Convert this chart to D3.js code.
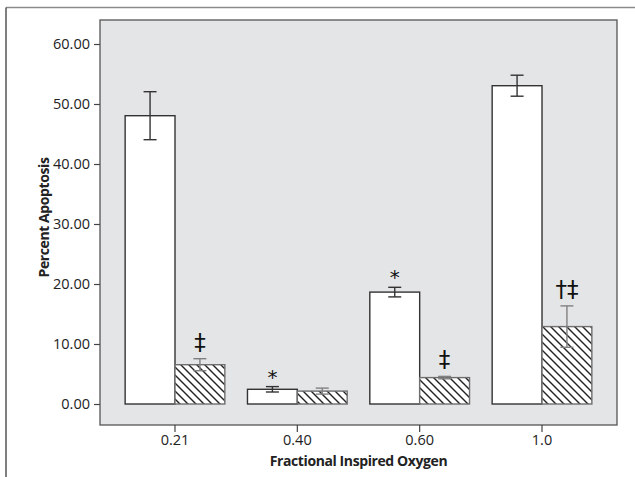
<!DOCTYPE html>
<html><head><meta charset="utf-8">
<script src="https://cdn.jsdelivr.net/npm/d3@7"></script>
<style>
body{margin:0;background:#fff;}
svg{display:block;}
</style></head>
<body>
<script>
const categories = ["0.21","0.40","0.60","1.0"];
const series = ["open","hatched"];
const openMeans = [48.05, 2.45, 18.65, 53.05];
const openErr   = [4.0, 0.45, 0.8, 1.75];
const hatchMeans = [6.55, 2.15, 4.4, 12.9];
const hatchErr   = [1.0, 0.5, 0.2, 3.45];
const openMarks  = ["", "*", "*", ""];
const hatchMarks = ["‡", "", "‡", "†‡"];
const yTicks = [0, 10, 20, 30, 40, 50, 60];
const xTitle = "Fractional Inspired Oxygen";
const yTitle = "Percent Apoptosis";

const W = 635, H = 477;
const plot = {l:100, t:20, r:617, b:425};
const svg = d3.select("body").append("svg").attr("width", W).attr("height", H)
  .style("font-family","'Open Sans',sans-serif");

// outer frame
svg.append("line").attr("x1",6).attr("x2",W).attr("y1",7.5).attr("y2",7.5).attr("stroke","#8a8a8a").attr("stroke-width",1.5);
svg.append("line").attr("x1",6).attr("x2",6).attr("y1",7.5).attr("y2",H).attr("stroke","#555").attr("stroke-width",1.5);

const defs = svg.append("defs");
const pat = defs.append("pattern").attr("id","hatch").attr("patternUnits","userSpaceOnUse")
  .attr("width",8).attr("height",8);
pat.append("rect").attr("width",8).attr("height",8).attr("fill","#fff");
pat.append("path").attr("d","M-2,-2L10,10M-2,6L2,10M6,-2L10,2").attr("stroke","#222").attr("stroke-width",1.4);

const x = d3.scaleBand().domain(categories).range([plot.l, plot.r]).paddingInner(0.185).paddingOuter(0.2055);
const xs = d3.scaleBand().domain(series).range([0, x.bandwidth()]);
const y = d3.scaleLinear().domain([-3.5, 64]).range([plot.b, plot.t]);

svg.append("rect").attr("x",plot.l).attr("y",plot.t).attr("width",plot.r-plot.l).attr("height",plot.b-plot.t)
  .attr("fill","#e4e5e7").attr("stroke","#555").attr("stroke-width",1.3);

const data = categories.map((c,i)=>[
  {c, s:"open", v:openMeans[i], e:openErr[i], m:openMarks[i]},
  {c, s:"hatched", v:hatchMeans[i], e:hatchErr[i], m:hatchMarks[i]}
]).flat();

const g = svg.append("g");
g.selectAll("rect.bar").data(data).join("rect").attr("class","bar")
  .attr("x", d=>x(d.c)+xs(d.s)).attr("width", xs.bandwidth())
  .attr("y", d=>y(d.v)).attr("height", d=>y(0)-y(d.v))
  .attr("fill", d=>d.s==="open" ? "#fff" : "url(#hatch)")
  .attr("stroke", d=>d.s==="open" ? "#333" : "#6e6e6e")
  .attr("stroke-width", 1.4);

const eb = g.selectAll("g.eb").data(data).join("g").attr("class","eb")
  .attr("stroke", d=>d.s==="open" ? "#333" : "#808080").attr("stroke-width",1.4);
const cx = d=>x(d.c)+xs(d.s)+xs.bandwidth()/2;
eb.append("line").attr("x1",cx).attr("x2",cx).attr("y1",d=>y(d.v+d.e)).attr("y2",d=>y(d.v-d.e));
eb.append("line").attr("x1",d=>cx(d)-6.5).attr("x2",d=>cx(d)+6.5).attr("y1",d=>y(d.v+d.e)).attr("y2",d=>y(d.v+d.e));
eb.append("line").attr("x1",d=>cx(d)-6.5).attr("x2",d=>cx(d)+6.5).attr("y1",d=>y(d.v-d.e)).attr("y2",d=>y(d.v-d.e));

g.selectAll("text.mark").data(data.filter(d=>d.m)).join("text").attr("class","mark")
  .attr("x", cx).attr("y", d=> d.m==="*" ? y(d.v+d.e)-3 : y(d.v+d.e)-9)
  .attr("text-anchor","middle")
  .style("font-size", d=> d.m==="*" ? "20px" : "23px")
  .style("font-family","'DejaVu Sans'").attr("fill","#111")
  .text(d=>d.m);

// axes
const yAxis = svg.append("g").attr("transform",`translate(${plot.l},0)`)
  .call(d3.axisLeft(y).tickValues(yTicks).tickFormat(d3.format(".2f")).tickSize(6).tickPadding(4));
const xAxis = svg.append("g").attr("transform",`translate(0,${plot.b})`)
  .call(d3.axisBottom(x).tickSize(7).tickPadding(3));
[yAxis, xAxis].forEach(a=>{
  a.attr("font-size",null).attr("font-family",null);
  a.select(".domain").remove();
  a.selectAll(".tick line").attr("stroke","#444").attr("stroke-width",1.2);
  a.selectAll(".tick text").style("font-size","14.5px").attr("fill","#222").style("font-family","'Open Sans'");
});

svg.append("text").attr("x",(x("0.40")+x("0.60"))/2 + x.bandwidth()/2).attr("y",466)
  .attr("text-anchor","middle").style("font-size","14px").attr("font-weight","bold").attr("fill","#222")
  .attr("letter-spacing","-0.4").text(xTitle);
svg.append("text").attr("transform",`translate(49,${(plot.t+plot.b)/2 - 5}) rotate(-90)`)
  .attr("text-anchor","middle").style("font-size","14px").attr("font-weight","bold").attr("fill","#222")
  .attr("letter-spacing","-0.4").text(yTitle);
</script>
</body></html>
